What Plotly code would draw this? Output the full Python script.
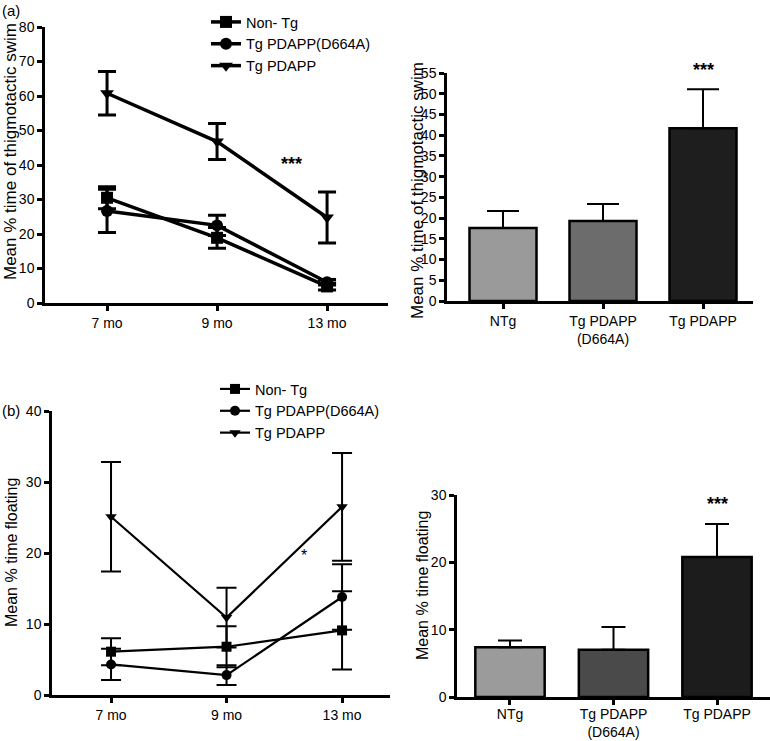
import plotly.graph_objects as go

# ── DATA ────────────────────────────────────────────────────────
months = ['7 mo', '9 mo', '13 mo']
month_idx = [0, 1, 2]
groups = ['NTg', 'Tg PDAPP<br>(D664A)', 'Tg PDAPP']
series_names = ['Non- Tg', 'Tg PDAPP(D664A)', 'Tg PDAPP']

# (a) thigmotactic swim, line panel
thig_nontg = [30.5, 18.9, 4.8]
thig_nontg_err = [3.2, 3.0, 1.0]
thig_d664a = [26.7, 22.5, 6.0]
thig_d664a_err = [6.3, 2.9, 0.8]
thig_pdapp = [60.8, 46.8, 24.8]
thig_pdapp_err = [6.3, 5.2, 7.4]

# (a) thigmotactic swim, bar panel
thig_bar = [17.6, 19.3, 41.7]
thig_bar_err = [4.1, 4.1, 9.4]

# (b) floating, line panel
float_nontg = [6.1, 6.8, 9.1]
float_nontg_err = [1.9, 2.9, 5.5]
float_d664a = [4.3, 2.8, 13.8]
float_d664a_err = [2.2, 1.4, 4.6]
float_pdapp = [25.1, 10.9, 26.5]
float_pdapp_err = [7.7, 4.2, 7.6]

# (b) floating, bar panel
float_bar = [7.4, 7.0, 20.8]
float_bar_err = [1.0, 3.4, 4.9]

W, H = 770, 741
FONT = 'Liberation Sans, Arial, sans-serif'


def px_x(p):
    return p / W


def px_y(p):
    return 1 - p / H


fig = go.Figure()

symbols = ['square', 'circle', 'triangle-down']

# ── TOP-LEFT LINES ──────────────────────────────────────────────
top_lines = [(thig_nontg, thig_nontg_err), (thig_d664a, thig_d664a_err), (thig_pdapp, thig_pdapp_err)]
for name, sym, (vals, errs) in zip(series_names, symbols, top_lines):
    fig.add_trace(go.Scatter(
        x=month_idx, y=vals, name=name, mode='lines+markers',
        line=dict(color='black', width=3.5),
        marker=dict(symbol=sym, size=12, color='black'),
        error_y=dict(type='data', array=errs, color='black', thickness=3, width=9),
        xaxis='x', yaxis='y', legend='legend'
    ))

# ── TOP-RIGHT BARS ──────────────────────────────────────────────
fig.add_trace(go.Bar(
    x=groups, y=thig_bar, width=0.67,
    marker=dict(color=['#9a9a9a', '#6c6c6c', '#1e1e1e'], line=dict(color='black', width=2.5)),
    error_y=dict(type='data', array=thig_bar_err, arrayminus=[0, 0, 0], symmetric=False,
                 color='black', thickness=2, width=16),
    showlegend=False, xaxis='x2', yaxis='y2'
))

# ── BOTTOM-LEFT LINES ───────────────────────────────────────────
bot_lines = [(float_nontg, float_nontg_err), (float_d664a, float_d664a_err), (float_pdapp, float_pdapp_err)]
for name, sym, (vals, errs) in zip(series_names, symbols, bot_lines):
    fig.add_trace(go.Scatter(
        x=month_idx, y=vals, name=name, mode='lines+markers',
        line=dict(color='black', width=2.2),
        marker=dict(symbol=sym, size=10, color='black'),
        error_y=dict(type='data', array=errs, color='black', thickness=2, width=10),
        xaxis='x3', yaxis='y3', legend='legend2'
    ))

# ── BOTTOM-RIGHT BARS ───────────────────────────────────────────
fig.add_trace(go.Bar(
    x=groups, y=float_bar, width=0.67,
    marker=dict(color=['#9b9b9b', '#4a4a4a', '#1c1c1c'], line=dict(color='black', width=2.5)),
    error_y=dict(type='data', array=float_bar_err, arrayminus=[0, 0, 0], symmetric=False,
                 color='black', thickness=2, width=12),
    showlegend=False, xaxis='x4', yaxis='y4'
))


def axis_style(size):
    return dict(showline=True, linecolor='black', linewidth=2.5, ticks='outside',
                ticklen=5, tickwidth=2.5, tickcolor='black', showgrid=False,
                zeroline=False, tickfont=dict(family=FONT, size=size, color='black'))


fig.update_layout(
    width=W, height=H,
    margin=dict(l=0, r=0, t=0, b=0, autoexpand=False),
    paper_bgcolor='white', plot_bgcolor='white',
    font=dict(family=FONT, size=14, color='black'),
    xaxis=dict(domain=[px_x(45), px_x(388)], range=[-0.564, 2.554],
               tickvals=month_idx, ticktext=months, anchor='y', **axis_style(14)),
    yaxis=dict(domain=[px_y(303), px_y(27)], range=[0, 80], dtick=10, anchor='x', **axis_style(14)),
    xaxis2=dict(domain=[px_x(447), px_x(753)], range=[-0.56, 2.5], anchor='y2', **axis_style(14)),
    yaxis2=dict(domain=[px_y(301), px_y(73)], range=[0, 55], dtick=5, anchor='x2', **axis_style(14)),
    xaxis3=dict(domain=[px_x(52), px_x(390)], range=[-0.511, 2.415],
                tickvals=month_idx, ticktext=months, anchor='y3', **axis_style(14)),
    yaxis3=dict(domain=[px_y(695), px_y(411)], range=[0, 40], dtick=10, anchor='x3', **axis_style(14)),
    xaxis4=dict(domain=[px_x(457), px_x(770)], range=[-0.512, 2.512], anchor='y4',
                ticklabelstandoff=-3, **axis_style(14)),
    yaxis4=dict(domain=[px_y(697), px_y(495)], range=[0, 30], dtick=10, anchor='x4', **axis_style(14)),
    legend=dict(x=px_x(206), y=px_y(6), xanchor='left', yanchor='top',
                font=dict(family=FONT, size=14.5), bgcolor='rgba(0,0,0,0)',
                tracegroupgap=0, itemwidth=30),
    legend2=dict(x=px_x(215), y=px_y(373), xanchor='left', yanchor='top',
                 font=dict(family=FONT, size=14.5), bgcolor='rgba(0,0,0,0)',
                 tracegroupgap=0, itemwidth=30),
)

annots = [
    dict(text='(a)', x=0, y=px_y(10), xref='paper', yref='paper', xanchor='left',
         yanchor='middle', showarrow=False, font=dict(size=15)),
    dict(text='(b)', x=0, y=px_y(410), xref='paper', yref='paper', xanchor='left',
         yanchor='middle', showarrow=False, font=dict(size=15)),
    dict(text='Mean % time of thigmotactic swim', x=px_x(11), y=px_y(152), xref='paper',
         yref='paper', textangle=-90, xanchor='center', yanchor='middle',
         showarrow=False, font=dict(size=17)),
    dict(text='Mean % time of thigmotactic swim', x=px_x(418), y=px_y(190), xref='paper',
         yref='paper', textangle=-90, xanchor='center', yanchor='middle',
         showarrow=False, font=dict(size=17)),
    dict(text='Mean % time floating', x=px_x(11), y=px_y(553), xref='paper',
         yref='paper', textangle=-90, xanchor='center', yanchor='middle',
         showarrow=False, font=dict(size=16)),
    dict(text='Mean % time floating', x=px_x(422), y=px_y(585), xref='paper',
         yref='paper', textangle=-90, xanchor='center', yanchor='middle',
         showarrow=False, font=dict(size=16)),
    dict(text='<b>***</b>', x=1.68, y=40.4, xref='x', yref='y', showarrow=False,
         font=dict(size=18), yanchor='middle'),
    dict(text='<b>***</b>', x=2, y=px_y(70), xref='x2', yref='paper', showarrow=False,
         font=dict(size=18), yanchor='middle'),
    dict(text='*', x=1.67, y=19.7, xref='x3', yref='y3', showarrow=False,
         font=dict(size=16), yanchor='middle'),
    dict(text='<b>***</b>', x=2, y=28.6, xref='x4', yref='y4', showarrow=False,
         font=dict(size=18), yanchor='middle'),
]
fig.update_layout(annotations=annots)

# page body has a default 8px margin; drop it so the figure sits at 0,0
fig.write_html('out.html', config={'displayModeBar': False},
               post_script="document.body.style.margin='0';")
